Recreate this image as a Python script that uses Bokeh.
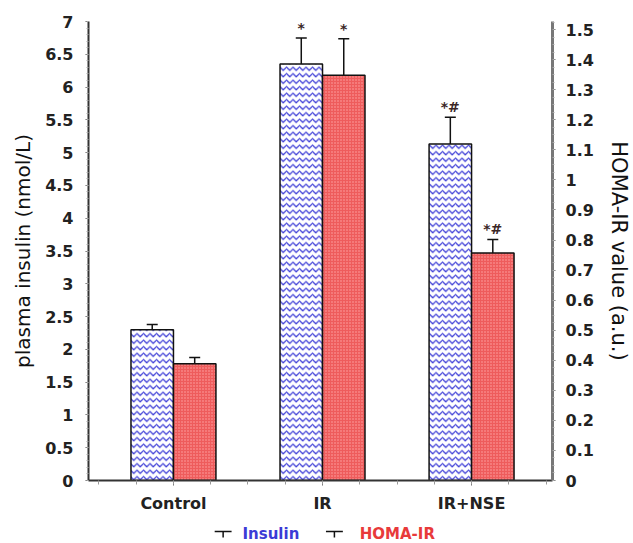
import numpy as np
from bokeh.plotting import figure
from bokeh.layouts import column
from bokeh.core.properties import value
from bokeh.models import (Range1d, LinearAxis, FixedTicker, Whisker, ColumnDataSource,
                          TeeHead, SingleIntervalTicker)
from bokeh.embed import file_html
from bokeh.resources import INLINE

# ---- data ----
categories = ["Control", "IR", "IR+NSE"]
insulin = [2.30, 6.35, 5.13]
insulin_err = [0.08, 0.40, 0.41]
homa = [0.388, 1.348, 0.757]
homa_err = [0.021, 0.122, 0.045]
insulin_marks = ["", "*", "*#"]
homa_marks = ["", "*", "*#"]
legend_labels = ["Insulin", "HOMA-IR"]

FONT = "DejaVu Sans"
BLUE = "#3b3bd6"
RED = "#ee5c5c"
W = 633
FRAME_L, FRAME_R = 88, 555

pos = np.arange(1, len(categories) + 1)
bw = 0.285

p = figure(width=W, height=515, output_backend="svg", toolbar_location=None,
           x_range=Range1d(0.43, 3.543), y_range=Range1d(0, 7),
           min_border_left=FRAME_L, min_border_right=W - FRAME_R, min_border_top=21,
           min_border_bottom=34)
p.extra_y_ranges = {"homa": Range1d(0, 1.527)}
p.outline_line_color = None
p.xgrid.visible = False
p.ygrid.visible = False

ins_src = ColumnDataSource(dict(x=pos - bw / 2, top=insulin,
                                upper=[v + e for v, e in zip(insulin, insulin_err)],
                                marks=insulin_marks))
homa_src = ColumnDataSource(dict(x=pos + bw / 2, top=homa,
                                 upper=[v + e for v, e in zip(homa, homa_err)],
                                 marks=homa_marks))

# error bars (behind bars)
for src, rng in ((ins_src, "default"), (homa_src, "homa")):
    w = Whisker(source=src, base="x", lower="top", upper="upper", dimension="height",
                line_color="#111111", line_width=1.5, lower_head=None,
                upper_head=TeeHead(size=11, line_color="#111111", line_width=1.5),
                y_range_name=rng, level="underlay")
    p.add_layout(w)

p.vbar(x="x", top="top", width=bw, source=ins_src, fill_color="white",
       hatch_pattern="horizontal_wave", hatch_color=BLUE, hatch_scale=6.5, hatch_weight=1.2,
       line_color="#111111", line_width=1.5)
p.vbar(x="x", top="top", width=bw, source=homa_src, y_range_name="homa",
       fill_color=RED, hatch_pattern="dot", hatch_color="#ffa8a8", hatch_scale=3, hatch_weight=1,
       line_color="#111111", line_width=1.5)

# significance marks
for src, rng in ((ins_src, "default"), (homa_src, "homa")):
    p.text(x="x", y="upper", text="marks", source=src, y_range_name=rng,
           text_align="center", text_baseline="bottom", y_offset=-2,
           text_font_size="14px", text_font_style="bold",
           text_color="#3a2626", text_font=value(FONT))

# x axis
xa = p.xaxis[0]
xa.ticker = FixedTicker(ticks=list(pos), minor_ticks=list(np.arange(0.5, 3.51, 0.25)))
xa.major_label_overrides = {int(c): lab for c, lab in zip(pos, categories)}
xa.axis_line_color = "#333333"
xa.axis_line_width = 2
xa.major_tick_in = 0
xa.major_tick_out = 5
xa.minor_tick_in = 0
xa.minor_tick_out = 4
xa.major_tick_line_color = "#666666"
xa.minor_tick_line_color = "#999999"
xa.major_label_standoff = 8
xa.major_label_text_font = FONT
xa.major_label_text_font_style = "bold"
xa.major_label_text_font_size = "16px"
xa.major_label_text_color = "#222222"

# left axis
ya = p.yaxis[0]
ya.ticker = SingleIntervalTicker(interval=0.5, num_minor_ticks=5)
ya.axis_label = "plasma insulin (nmol/L)"
ya.axis_label_text_font = FONT
ya.axis_label_text_font_style = "normal"
ya.axis_label_text_font_size = "20px"
ya.axis_label_text_color = "#111111"
ya.axis_label_standoff = 7
ya.axis_line_color = "#333333"
ya.axis_line_width = 2
ya.major_tick_in = 0
ya.major_tick_out = 3
ya.minor_tick_in = 0
ya.minor_tick_out = 2
ya.major_tick_line_color = "#666666"
ya.minor_tick_line_color = "#aaaaaa"
ya.major_label_standoff = 12
ya.major_label_text_font = FONT
ya.major_label_text_font_style = "bold"
ya.major_label_text_font_size = "16px"
ya.major_label_text_color = "#222222"

# right axis
ra = LinearAxis(y_range_name="homa", axis_label="HOMA-IR value (a.u.)",
                ticker=SingleIntervalTicker(interval=0.1, num_minor_ticks=4))
ra.major_label_overrides = {0: "0", 1: "1"}
ra.axis_label_text_font = FONT
ra.axis_label_text_font_style = "normal"
ra.axis_label_text_font_size = "21px"
ra.axis_label_text_color = "#111111"
ra.axis_label_standoff = 10
ra.axis_line_color = "#777777"
ra.axis_line_width = 3
ra.major_tick_in = 0
ra.major_tick_out = 3
ra.minor_tick_in = 0
ra.minor_tick_out = 2
ra.major_tick_line_color = "#777777"
ra.minor_tick_line_color = "#aaaaaa"
ra.major_label_standoff = 10
ra.major_label_text_font = FONT
ra.major_label_text_font_style = "bold"
ra.major_label_text_font_size = "16px"
ra.major_label_text_color = "#222222"
p.add_layout(ra, "right")

# legend strip below the chart; its frame is aligned with the chart frame,
# so the x range is expressed in page pixels of that frame
lg = figure(width=W, height=28, output_backend="svg", toolbar_location=None,
            x_range=Range1d(FRAME_L, FRAME_R), y_range=Range1d(543, 515),
            x_axis_location=None, y_axis_location=None,
            min_border_left=FRAME_L, min_border_right=W - FRAME_R,
            min_border_top=0, min_border_bottom=0)
lg.outline_line_color = None
lg.xgrid.visible = False
lg.ygrid.visible = False
sym_left = [215, 327]
text_left = [243, 361]
colors = [BLUE, "#e83a3a"]
sym_mid = [(a + 17 / 2) for a in sym_left]
lg.segment(x0=sym_left, x1=[a + 17 for a in sym_left], y0=[531, 531], y1=[531, 531],
           line_color="#111111", line_width=1.5)
lg.segment(x0=sym_mid, x1=sym_mid, y0=[531, 531], y1=[537, 537],
           line_color="#111111", line_width=1.5)
lg.text(x=text_left, y=[533, 533], text=legend_labels, text_color=colors,
        text_font=value(FONT), text_font_size="15px", text_font_style="bold",
        text_align="left", text_baseline="middle")

layout = column(p, lg, spacing=0)
open("out.html", "w").write(file_html(layout, INLINE))
